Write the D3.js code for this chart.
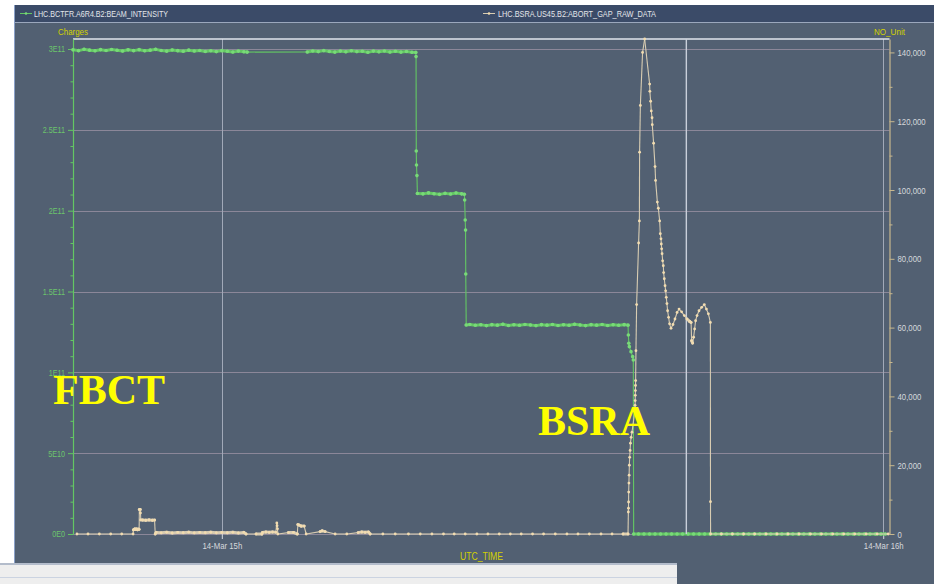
<!DOCTYPE html>
<html>
<head>
<meta charset="utf-8">
<script src="https://cdn.jsdelivr.net/npm/d3@7"></script>
<style>
  html, body { margin: 0; padding: 0; background: #ffffff; }
  svg { display: block; }
</style>
</head>
<body>
<svg id="chart" width="937" height="584"></svg>
<script>
// ---- data -----------------------------------------------------------------
// Times are minutes past 14:00 UTC on 14 March 2010.
const seriesNames = ["LHC.BCTFR.A6R4.B2:BEAM_INTENSITY", "LHC.BSRA.US45.B2:ABORT_GAP_RAW_DATA"];
const timeRange = [46.5, 120.57];
const timeTicks = [60, 120];
const timeTickLabels = ["14-Mar 15h", "14-Mar 16h"];
const cursorTime = 102.14;

const chargeTicks = [0, 5e10, 1e11, 1.5e11, 2e11, 2.5e11, 3e11];
const chargeTickLabels = ["0E0", "5E10", "1E11", "1.5E11", "2E11", "2.5E11", "3E11"];
const chargeMax = 3.062e11;

const rawTicks = [0, 20000, 40000, 60000, 80000, 100000, 120000, 140000];
const rawTickLabels = ["0", "20,000", "40,000", "60,000", "80,000", "100,000", "120,000", "140,000"];
const rawMax = 143900;

// beam intensity (FBCT), [minute, charges]
const fbct = [
  [46.5,2.995e11],[47.0,2.990e11],[47.5,2.998e11],[48.0,2.993e11],[48.5,2.989e11],[49.0,2.996e11],
  [49.5,2.991e11],[50.0,2.997e11],[50.5,2.992e11],[51.0,2.988e11],[51.5,2.995e11],[52.0,2.990e11],
  [52.5,2.996e11],[53.0,2.989e11],[53.5,2.993e11],[54.0,2.998e11],[54.5,2.991e11],[55.0,2.987e11],
  [55.5,2.994e11],[56.0,2.990e11],[56.5,2.986e11],[57.0,2.993e11],[57.5,2.988e11],[58.0,2.991e11],
  [58.5,2.985e11],[59.0,2.989e11],[59.5,2.984e11],[60.0,2.990e11],[60.5,2.986e11],[61.0,2.982e11],
  [61.5,2.987e11],[62.0,2.983e11],[62.3,2.981e11],
  [67.75,2.982e11],[68.25,2.988e11],[68.75,2.984e11],[69.25,2.990e11],[69.75,2.985e11],[70.25,2.981e11],
  [70.75,2.987e11],[71.25,2.983e11],[71.75,2.989e11],[72.25,2.984e11],[72.75,2.986e11],[73.25,2.980e11],
  [73.75,2.987e11],[74.25,2.983e11],[74.75,2.988e11],[75.25,2.982e11],[75.75,2.986e11],[76.25,2.981e11],
  [76.75,2.985e11],[77.25,2.980e11],[77.6,2.979e11],
  [77.62,2.953e11],[77.64,2.369e11],[77.66,2.283e11],[77.7,2.217e11],[77.74,2.106e11],
  [78.25,2.104e11],[78.75,2.110e11],[79.25,2.105e11],[79.75,2.101e11],[80.25,2.107e11],[80.75,2.103e11],
  [81.25,2.109e11],[81.75,2.104e11],[82.0,2.102e11],
  [82.03,2.066e11],[82.08,1.942e11],[82.11,1.880e11],[82.13,1.608e11],[82.17,1.293e11],
  [82.5,1.296e11],[83.0,1.291e11],[83.5,1.294e11],[84.0,1.289e11],[84.5,1.295e11],[85.0,1.292e11],
  [85.5,1.297e11],[86.0,1.290e11],[86.5,1.294e11],[87.0,1.291e11],[87.5,1.296e11],[88.0,1.293e11],
  [88.5,1.289e11],[89.0,1.295e11],[89.5,1.292e11],[90.0,1.296e11],[90.5,1.290e11],[91.0,1.294e11],
  [91.5,1.291e11],[92.0,1.297e11],[92.5,1.293e11],[93.0,1.289e11],[93.5,1.295e11],[94.0,1.292e11],
  [94.5,1.296e11],[95.0,1.290e11],[95.5,1.294e11],[96.0,1.291e11],[96.5,1.295e11],[96.85,1.292e11],
  [96.88,1.231e11],[96.92,1.180e11],[96.97,1.159e11],[97.12,1.128e11],[97.27,1.097e11],[97.33,1.076e11],
  [97.36,0],[97.8,0],[98.3,0],[98.8,0],[99.3,0],[99.8,0],[100.3,0],[100.8,0],[101.3,0],[101.8,0],
  [102.3,0],[102.8,0],[103.3,0],[103.8,0],[104.3,0],[104.8,0],[105.3,0],[105.8,0],[106.3,0],[106.8,0],
  [107.3,0],[107.8,0],[108.3,0],[108.8,0],[109.3,0],[109.8,0],[110.3,0],[110.8,0],[111.3,0],[111.8,0],
  [112.3,0],[112.8,0],[113.3,0],[113.8,0],[114.3,0],[114.8,0],[115.3,0],[115.8,0],[116.3,0],[116.8,0],
  [117.3,0],[117.8,0],[118.3,0],[118.8,0],[119.3,0],[119.8,0],[120.2,0]
];

// abort gap raw signal (BSRA), [minute, counts]
const bsra = [
  [46.86,0],[47.86,0],[48.89,0],[49.92,0],[50.92,0],
  [51.95,0],[51.98,1200],[52.05,1350],[52.12,1450],[52.2,1300],[52.28,1450],[52.36,1250],[52.44,1400],[52.5,1350],
  [52.52,7150],[52.6,7150],[52.62,6100],[52.65,4100],[52.82,4050],[53.1,4000],[53.4,4100],[53.7,4000],[53.9,4050],[53.96,0],
  [54.05,450],[54.5,350],[55.0,500],[55.5,300],[56.0,450],[56.5,380],[57.0,520],[57.5,330],[58.0,460],
  [58.5,390],[59.0,510],[59.5,340],[60.0,470],[60.5,360],[61.0,500],[61.5,320],[62.0,450],[62.2,0],
  [63.11,0],[63.63,0],[63.7,450],[64.0,550],[64.3,480],[64.6,560],[64.9,500],[64.99,3200],[65.01,2400],[65.05,1500],[65.08,0],
  [66.04,400],[66.5,450],[66.85,0],[66.9,2750],[67.01,2600],[67.2,2300],[67.47,2300],[67.65,0],
  [68.92,700],[69.1,900],[69.37,700],[70.28,0],[71.34,0],
  [72.37,400],[72.7,550],[73.0,480],[73.3,560],[73.46,0],
  [74.61,0],[75.73,0],[76.93,0],[78.0,0],[79.06,0],[80.11,0],[81.08,0],[82.08,0],[83.14,0],[84.14,0],
  [85.17,0],[86.17,0],[87.16,0],[88.19,0],[89.19,0],[90.25,0],[91.31,0],[92.31,0],[93.34,0],[94.4,0],
  [95.4,0],[96.4,0],[96.85,0],
  [96.88,6400],[96.89,7500],[96.9,9300],[96.91,12200],[96.93,14800],[96.95,17100],[96.97,20000],
  [97.0,22300],[97.04,24300],[97.07,26400],[97.13,28100],[97.21,29600],
  [97.48,36000],[97.49,37400],[97.5,38800],[97.51,40300],[97.52,41700],[97.53,43200],[97.54,44600],
  [97.57,53300],[97.63,66700],[97.81,84600],[97.88,91000],[97.9,111000],[97.97,124600],[98.17,140000],[98.36,143900],
  [98.81,130800],[98.83,128700],[98.9,125800],[98.96,123000],[99.03,121000],[99.05,119000],[99.17,113600],
  [99.3,106800],[99.35,102800],[99.51,96500],[99.6,94700],[99.72,91000],[99.78,87300],[99.84,85800],
  [99.87,84300],[99.9,82900],[99.94,81500],[99.99,79400],[100.05,78000],[100.08,76000],[100.14,74200],
  [100.21,72200],[100.26,70700],[100.32,68800],[100.38,67000],[100.44,64900],[100.53,63000],[100.62,61100],
  [100.75,59800],[100.93,60900],[101.11,62500],[101.3,64400],[101.48,65400],[101.71,64600],[101.96,63500],
  [102.2,62500],[102.44,61800],[102.57,61500],[102.62,56200],[102.71,55500],[102.8,57200],[102.89,59600],
  [102.98,62000],[103.11,63500],[103.29,64900],[103.53,65900],[103.77,66700],[103.96,65400],[104.14,64000],
  [104.32,61500],[104.33,9400],[104.34,0],
  [105.32,0],[106.32,0],[107.34,0],[108.34,0],[109.38,0],[110.37,0],[111.37,0],[112.37,0],[113.4,0],
  [114.4,0],[115.42,0],[116.42,0],[117.42,0],[118.45,0],[119.45,0],[120.45,0]
];

// ---- layout ---------------------------------------------------------------
const W = 937, H = 584;
const plot = { left: 73, right: 889.5, top: 39, bottom: 534 };
const col = {
  panel: "#526072", bar: "#3b4b68", barEdge: "#9ba7bc",
  hGrid: "#8b8799", vGrid: "#a1a9b8", frame: "#e2e6ee",
  green: "#63c763", greenDot: "#78da78", greenText: "#6cc46c",
  sand: "#d8ccb2", sandDot: "#f2dcb0", sandAxis: "#c8b88e",
  axisText: "#d6d8dc", yellowText: "#d2d200", big: "#ffff00"
};
const smallFont = "'Liberation Sans', Arial, sans-serif";

const svg = d3.select("#chart");

// shrink small labels horizontally to the narrow face used by the viewer
function squeeze(sel, factor) {
  sel.each(function () {
    const w = this.getComputedTextLength();
    d3.select(this).attr("textLength", w * factor).attr("lengthAdjust", "spacingAndGlyphs");
  });
}
function fitWidth(sel, width) {
  sel.attr("textLength", width).attr("lengthAdjust", "spacingAndGlyphs");
}

// ---- frame ----------------------------------------------------------------
svg.append("rect").attr("width", W).attr("height", H).attr("fill", "#ffffff");
svg.append("rect").attr("x", 15).attr("y", 5).attr("width", 919).attr("height", H - 5).attr("fill", col.panel);
svg.append("line").attr("x1", 14.5).attr("x2", 14.5).attr("y1", 5).attr("y2", 563).attr("stroke", "#8aa0c8");
svg.append("rect").attr("x", 15).attr("y", 5).attr("width", 919).attr("height", 17).attr("fill", col.bar);
svg.append("line").attr("x1", 15).attr("x2", 934).attr("y1", 22.5).attr("y2", 22.5).attr("stroke", col.barEdge);

// status strip under the panel
svg.append("rect").attr("x", 0).attr("y", 563).attr("width", 677).attr("height", 21).attr("fill", "#eeeeee");
svg.append("line").attr("x1", 0).attr("x2", 677).attr("y1", 564).attr("y2", 564).attr("stroke", "#b3bccb").attr("stroke-width", 2);
svg.append("line").attr("x1", 0).attr("x2", 677).attr("y1", 577.5).attr("y2", 577.5).attr("stroke", "#cbd3e1");

// ---- legend ---------------------------------------------------------------
const legend = [
  { name: seriesNames[0], x: 20, textX: 34, width: 134, line: col.green, dot: col.greenDot },
  { name: seriesNames[1], x: 483, textX: 498, width: 158, line: col.sand, dot: col.sandDot }
];
legend.forEach(l => {
  svg.append("line").attr("x1", l.x).attr("x2", l.x + 12).attr("y1", 13.5).attr("y2", 13.5)
    .attr("stroke", l.line).attr("stroke-width", 1);
  svg.append("circle").attr("cx", l.x + 6).attr("cy", 13.5).attr("r", 1.3).attr("fill", l.dot);
  svg.append("text").attr("x", l.textX).attr("y", 16.8).text(l.name)
    .attr("font-family", smallFont).attr("font-size", 9).attr("fill", "#e4e6ea")
    .call(fitWidth, l.width);
});

// ---- scales ---------------------------------------------------------------
const t0 = Date.UTC(2010, 2, 14, 14, 0, 0);
const toDate = m => new Date(t0 + m * 60000);
const x = d3.scaleUtc().domain(timeRange.map(toDate)).range([plot.left, plot.right]);
const yL = d3.scaleLinear().domain([0, chargeMax]).range([plot.bottom, plot.top]);
const yR = d3.scaleLinear().domain([0, rawMax]).range([plot.bottom, plot.top]);

// ---- grid -----------------------------------------------------------------
const grid = svg.append("g");
grid.selectAll("line.h").data(chargeTicks).join("line")
  .attr("x1", plot.left).attr("x2", plot.right)
  .attr("y1", d => Math.round(yL(d)) + 0.5).attr("y2", d => Math.round(yL(d)) + 0.5)
  .attr("stroke", col.hGrid).attr("stroke-width", 1);
grid.selectAll("line.v").data(timeTicks).join("line")
  .attr("x1", d => Math.round(x(toDate(d))) + 0.5).attr("x2", d => Math.round(x(toDate(d))) + 0.5)
  .attr("y1", plot.top).attr("y2", plot.bottom)
  .attr("stroke", col.vGrid).attr("stroke-width", 1);
// top frame line
svg.append("line").attr("x1", plot.left).attr("x2", plot.right).attr("y1", plot.top).attr("y2", plot.top)
  .attr("stroke", col.frame).attr("stroke-width", 1.5);

// ---- axes -----------------------------------------------------------------
const leftAxis = svg.append("g").attr("transform", `translate(${plot.left},0)`)
  .call(d3.axisLeft(yL).tickValues(chargeTicks).tickFormat((d, i) => chargeTickLabels[i])
    .tickSize(5).tickSizeOuter(0).tickPadding(3));
svg.append("g").attr("transform", `translate(${plot.left},0)`)
  .call(d3.axisLeft(yL).tickValues(d3.range(1e10, 3.05e11, 1e10).filter(v => Math.round(v / 1e10) % 5 !== 0))
    .tickFormat("").tickSize(2.5).tickSizeOuter(0))
  .call(g => g.select(".domain").remove())
  .selectAll("line").attr("stroke", col.green);
leftAxis.select(".domain").attr("stroke", col.green).attr("stroke-width", 1.2);
leftAxis.selectAll(".tick line").attr("stroke", col.green);
leftAxis.selectAll("text").attr("font-family", smallFont).attr("font-size", 9)
  .attr("fill", col.greenText).call(squeeze, 0.8);

const rightAxis = svg.append("g").attr("transform", `translate(${plot.right},0)`)
  .call(d3.axisRight(yR).tickValues(rawTicks).tickFormat((d, i) => rawTickLabels[i])
    .tickSize(5).tickSizeOuter(0).tickPadding(3));
svg.append("g").attr("transform", `translate(${plot.right},0)`)
  .call(d3.axisRight(yR).tickValues(d3.range(10000, 140001, 20000)).tickFormat("").tickSize(3).tickSizeOuter(0))
  .call(g => g.select(".domain").remove())
  .selectAll("line").attr("stroke", col.sandAxis);
rightAxis.select(".domain").attr("stroke", col.sandAxis).attr("stroke-width", 1.2);
rightAxis.selectAll(".tick line").attr("stroke", col.sandAxis);
rightAxis.selectAll("text").attr("font-family", smallFont).attr("font-size", 9.5)
  .attr("fill", col.axisText).call(squeeze, 0.82);

const bottomAxis = svg.append("g").attr("transform", `translate(0,${plot.bottom})`)
  .call(d3.axisBottom(x).tickValues(timeTicks.map(toDate)).tickFormat((d, i) => timeTickLabels[i])
    .tickSize(5).tickSizeOuter(0).tickPadding(3));
bottomAxis.select(".domain").remove();
bottomAxis.selectAll(".tick line").attr("stroke", "#d8dbe0");
bottomAxis.selectAll("text").attr("font-family", smallFont).attr("font-size", 9.5)
  .attr("fill", col.axisText).call(squeeze, 0.82);

// axis titles
svg.append("text").attr("x", 58).attr("y", 35).text("Charges")
  .attr("font-family", smallFont).attr("font-size", 9).attr("fill", col.yellowText).call(fitWidth, 30);
svg.append("text").attr("x", 874).attr("y", 35).text("NO_Unit")
  .attr("font-family", smallFont).attr("font-size", 9).attr("fill", col.yellowText).call(fitWidth, 31);
svg.append("text").attr("x", 460).attr("y", 560).text("UTC_TIME")
  .attr("font-family", smallFont).attr("font-size", 10).attr("fill", col.yellowText).call(fitWidth, 43);

// ---- series ---------------------------------------------------------------
// Dense, nearly level runs of samples render as a heavy band; steps and
// sparse stretches render as a hairline.
function drawSeries(data, y, lineColor, dotColor, dotR) {
  const pairs = d3.pairs(data).map(([a, b]) => ({
    x1: x(toDate(a[0])), y1: y(a[1]), x2: x(toDate(b[0])), y2: y(b[1]),
    dense: (b[0] - a[0]) < 0.6 && Math.abs(y(b[1]) - y(a[1])) < 2.5
  }));
  const g = svg.append("g");
  g.selectAll("line").data(pairs).join("line")
    .attr("x1", d => d.x1).attr("y1", d => d.y1).attr("x2", d => d.x2).attr("y2", d => d.y2)
    .attr("stroke", lineColor).attr("stroke-width", d => d.dense ? 3 : 1.1)
    .attr("stroke-linecap", d => d.dense ? "round" : "butt");
  g.selectAll("circle").data(data).join("circle")
    .attr("cx", d => x(toDate(d[0]))).attr("cy", d => y(d[1])).attr("r", dotR)
    .attr("fill", dotColor);
}

drawSeries(fbct, yL, col.green, col.greenDot, 1.8);

// cursor line
svg.append("line")
  .attr("x1", x(toDate(cursorTime))).attr("x2", x(toDate(cursorTime)))
  .attr("y1", plot.top).attr("y2", plot.bottom)
  .attr("stroke", "#c9cfda").attr("stroke-width", 1.4);

drawSeries(bsra, yR, col.sand, col.sandDot, 1.4);

// ---- detector labels -----------------------------------------------------
const bigFont = "'Liberation Serif', 'Times New Roman', serif";
svg.append("text").attr("x", 53).attr("y", 404).text("FBCT")
  .attr("font-family", bigFont).attr("font-weight", "bold").attr("font-size", 42).attr("fill", col.big);
svg.append("text").attr("x", 538).attr("y", 435).text("BSRA")
  .attr("font-family", bigFont).attr("font-weight", "bold").attr("font-size", 42).attr("fill", col.big);
</script>
</body>
</html>
